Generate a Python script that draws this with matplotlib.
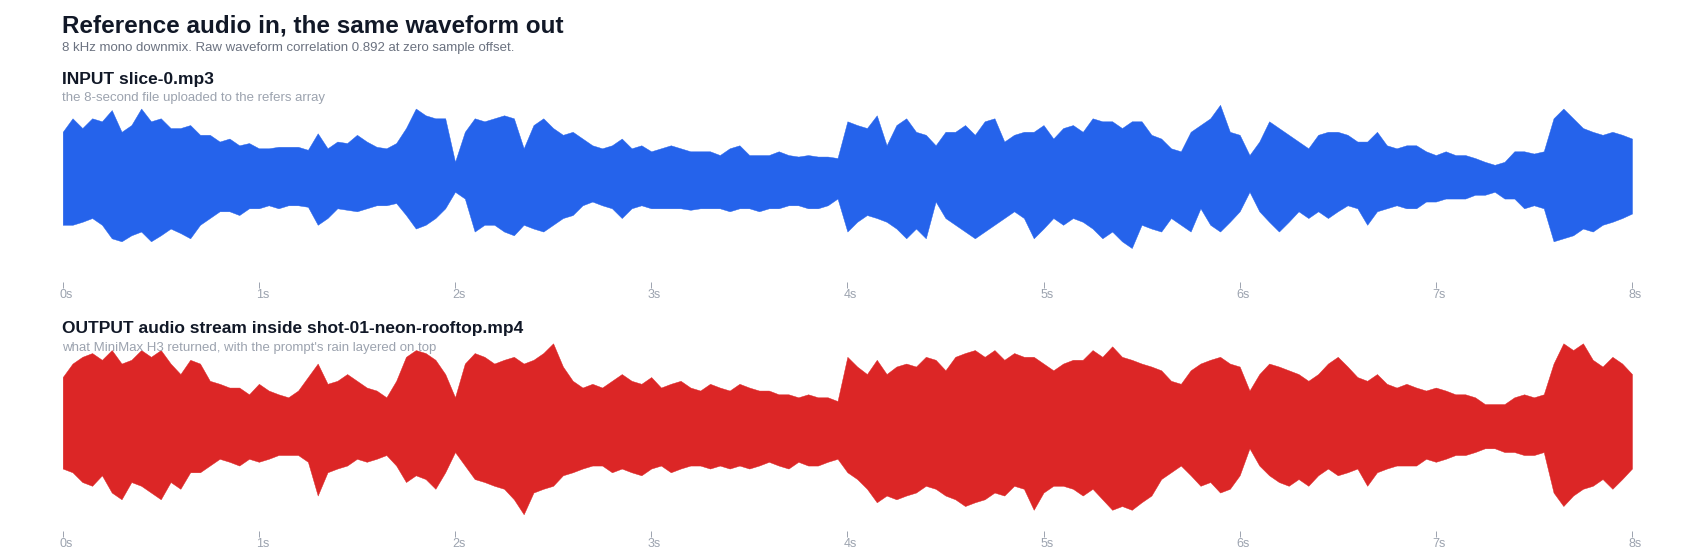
import matplotlib.pyplot as plt
from matplotlib import transforms
import numpy as np

plt.rcParams["font.family"] = ["Liberation Sans", "DejaVu Sans"]

# envelope readings, one every 50 ms from 0 s to 8 s (amplitude above / below zero)
STEP = 0.05

input_top = [
    0.62, 0.80, 0.67, 0.80, 0.76, 0.91, 0.62, 0.71, 0.93, 0.76, 0.80, 0.67, 0.67, 0.71, 0.58, 0.58, 0.49, 0.53, 0.44, 0.47,
    0.40, 0.40, 0.42, 0.42, 0.42, 0.38, 0.60, 0.40, 0.49, 0.47, 0.58, 0.49, 0.42, 0.40, 0.47, 0.67, 0.93, 0.84, 0.80, 0.80,
    0.22, 0.62, 0.80, 0.76, 0.80, 0.84, 0.80, 0.40, 0.71, 0.80, 0.67, 0.58, 0.62, 0.53, 0.44, 0.40, 0.44, 0.53, 0.40, 0.44,
    0.36, 0.40, 0.44, 0.40, 0.36, 0.36, 0.36, 0.31, 0.40, 0.44, 0.31, 0.31, 0.31, 0.36, 0.31, 0.29, 0.31, 0.29, 0.29, 0.27,
    0.76, 0.71, 0.67, 0.84, 0.44, 0.71, 0.80, 0.62, 0.58, 0.44, 0.62, 0.62, 0.71, 0.58, 0.76, 0.80, 0.49, 0.58, 0.62, 0.62,
    0.71, 0.53, 0.67, 0.71, 0.62, 0.80, 0.76, 0.76, 0.67, 0.76, 0.76, 0.58, 0.53, 0.40, 0.36, 0.62, 0.71, 0.80, 0.98, 0.62,
    0.58, 0.31, 0.49, 0.76, 0.67, 0.58, 0.49, 0.40, 0.58, 0.62, 0.62, 0.58, 0.49, 0.49, 0.62, 0.44, 0.40, 0.44, 0.44, 0.36,
    0.31, 0.36, 0.31, 0.31, 0.27, 0.22, 0.18, 0.22, 0.36, 0.36, 0.33, 0.36, 0.80, 0.93, 0.80, 0.67, 0.62, 0.58, 0.62, 0.58,
    0.53,
]
input_bottom = [
    0.62, 0.62, 0.58, 0.53, 0.62, 0.80, 0.84, 0.76, 0.71, 0.84, 0.76, 0.67, 0.73, 0.80, 0.62, 0.53, 0.44, 0.44, 0.49, 0.40,
    0.40, 0.36, 0.40, 0.36, 0.36, 0.38, 0.62, 0.53, 0.40, 0.42, 0.44, 0.40, 0.36, 0.36, 0.33, 0.49, 0.67, 0.62, 0.53, 0.40,
    0.18, 0.27, 0.71, 0.62, 0.62, 0.71, 0.76, 0.62, 0.67, 0.71, 0.62, 0.53, 0.49, 0.36, 0.31, 0.36, 0.40, 0.53, 0.40, 0.36,
    0.40, 0.40, 0.40, 0.40, 0.42, 0.40, 0.40, 0.40, 0.44, 0.40, 0.40, 0.44, 0.40, 0.40, 0.36, 0.36, 0.40, 0.40, 0.36, 0.27,
    0.71, 0.58, 0.49, 0.53, 0.58, 0.67, 0.80, 0.67, 0.80, 0.31, 0.53, 0.62, 0.71, 0.80, 0.71, 0.62, 0.53, 0.44, 0.53, 0.80,
    0.67, 0.53, 0.62, 0.53, 0.58, 0.67, 0.80, 0.71, 0.84, 0.93, 0.62, 0.67, 0.71, 0.53, 0.62, 0.71, 0.40, 0.62, 0.71, 0.58,
    0.44, 0.18, 0.44, 0.58, 0.71, 0.58, 0.44, 0.53, 0.44, 0.53, 0.44, 0.36, 0.40, 0.62, 0.44, 0.40, 0.36, 0.40, 0.40, 0.31,
    0.31, 0.27, 0.27, 0.27, 0.22, 0.22, 0.18, 0.27, 0.27, 0.40, 0.36, 0.40, 0.84, 0.80, 0.76, 0.67, 0.71, 0.62, 0.58, 0.53,
    0.47,
]
output_top = [
    0.67, 0.85, 0.94, 0.99, 0.90, 1.03, 0.85, 0.90, 1.03, 0.94, 1.03, 0.85, 0.71, 0.90, 0.85, 0.62, 0.58, 0.53, 0.53, 0.44,
    0.58, 0.49, 0.44, 0.40, 0.49, 0.67, 0.85, 0.58, 0.62, 0.71, 0.62, 0.53, 0.49, 0.40, 0.62, 0.94, 1.03, 0.99, 0.90, 0.71,
    0.40, 0.85, 0.99, 0.94, 0.85, 0.90, 0.94, 0.85, 0.90, 0.99, 1.12, 0.81, 0.62, 0.53, 0.58, 0.53, 0.62, 0.71, 0.62, 0.58,
    0.67, 0.53, 0.58, 0.62, 0.53, 0.49, 0.58, 0.53, 0.49, 0.58, 0.53, 0.49, 0.49, 0.44, 0.44, 0.40, 0.44, 0.40, 0.40, 0.35,
    0.94, 0.81, 0.71, 0.90, 0.71, 0.81, 0.85, 0.81, 0.94, 0.90, 0.76, 0.94, 0.99, 1.03, 0.94, 1.03, 0.90, 0.99, 0.94, 0.94,
    0.85, 0.76, 0.85, 0.90, 0.90, 1.03, 0.94, 1.08, 0.94, 0.90, 0.85, 0.81, 0.76, 0.62, 0.58, 0.76, 0.85, 0.90, 0.94, 0.85,
    0.81, 0.49, 0.71, 0.85, 0.81, 0.76, 0.71, 0.62, 0.71, 0.85, 0.94, 0.81, 0.67, 0.62, 0.71, 0.58, 0.53, 0.58, 0.53, 0.49,
    0.53, 0.49, 0.44, 0.44, 0.40, 0.31, 0.31, 0.31, 0.40, 0.44, 0.40, 0.44, 0.85, 1.12, 1.03, 1.12, 0.90, 0.81, 0.94, 0.85,
    0.71,
]
output_bottom = [
    0.55, 0.60, 0.73, 0.78, 0.64, 0.87, 0.96, 0.73, 0.78, 0.87, 0.96, 0.73, 0.82, 0.60, 0.60, 0.51, 0.42, 0.46, 0.51, 0.42,
    0.46, 0.42, 0.37, 0.37, 0.37, 0.46, 0.91, 0.60, 0.55, 0.51, 0.42, 0.46, 0.42, 0.37, 0.51, 0.73, 0.64, 0.69, 0.82, 0.60,
    0.33, 0.51, 0.69, 0.73, 0.78, 0.82, 0.96, 1.16, 0.87, 0.82, 0.78, 0.64, 0.60, 0.55, 0.51, 0.51, 0.60, 0.55, 0.60, 0.64,
    0.55, 0.51, 0.60, 0.55, 0.51, 0.51, 0.55, 0.51, 0.55, 0.51, 0.55, 0.51, 0.46, 0.51, 0.55, 0.46, 0.51, 0.51, 0.46, 0.42,
    0.60, 0.69, 0.82, 1.00, 0.91, 0.96, 0.91, 0.87, 0.78, 0.82, 0.91, 0.96, 1.05, 1.00, 0.96, 0.87, 0.91, 0.78, 0.82, 1.10,
    0.87, 0.78, 0.78, 0.82, 0.91, 0.82, 0.96, 1.10, 1.05, 1.10, 1.00, 0.91, 0.69, 0.60, 0.51, 0.64, 0.78, 0.73, 0.87, 0.82,
    0.64, 0.28, 0.51, 0.64, 0.73, 0.78, 0.69, 0.78, 0.64, 0.55, 0.64, 0.60, 0.55, 0.78, 0.60, 0.55, 0.51, 0.51, 0.51, 0.42,
    0.46, 0.42, 0.37, 0.37, 0.33, 0.28, 0.28, 0.33, 0.33, 0.37, 0.37, 0.33, 0.87, 1.05, 0.91, 0.82, 0.78, 0.69, 0.82, 0.69,
    0.55,
]

tick_seconds = [0, 1, 2, 3, 4, 5, 6, 7, 8]
tick_labels = ["0s", "1s", "2s", "3s", "4s", "5s", "6s", "7s", "8s"]

panel_titles = ["INPUT slice-0.mp3", "OUTPUT audio stream inside shot-01-neon-rooftop.mp4"]
panel_notes = [
    "the 8-second file uploaded to the refers array",
    "what MiniMax H3 returned, with the prompt's rain layered on top",
]

BLUE = "#2563eb"
RED = "#dc2626"
DARK = "#111827"
GREY = "#6b7280"
LIGHT = "#9ca3af"

W, H = 1700, 555
fig = plt.figure(figsize=(W / 100, H / 100), dpi=100)
fig.patch.set_facecolor("white")

fig.text(62 / W, 1 - 33 / H, "Reference audio in, the same waveform out",
         fontsize=17.5, fontweight="bold", color=DARK, va="baseline")
fig.text(62 / W, 1 - 51 / H,
         "8 kHz mono downmix. Raw waveform correlation 0.892 at zero sample offset.",
         fontsize=9.5, color=GREY, va="baseline")

times = np.arange(len(input_top)) * STEP
series = [(input_top, input_bottom, BLUE), (output_top, output_bottom, RED)]

PANEL_SHIFT = 249  # px between the two panels
left, width = 62.7 / W, (1632 - 62.7) / W
for i, (top, bottom, color) in enumerate(series):
    centre = 178.3 + i * PANEL_SHIFT
    y_bot = centre + 1.383 * 75
    ax = fig.add_axes([left, 1 - y_bot / H, width, (2.633 * 75) / H])
    ax.set_xlim(0, 8)
    ax.set_ylim(-1.383, 1.25)
    ax.fill_between(times, -np.array(bottom), np.array(top), color=color, lw=0.3,
                    edgecolor=color)
    ax.set_xticks(tick_seconds)
    ax.set_xticklabels(tick_labels)
    ax.tick_params(axis="x", length=4, width=0.7, color=LIGHT, pad=1,
                   labelsize=9, labelcolor=LIGHT)
    ax.set_yticks([])
    for s in ax.spines.values():
        s.set_visible(False)
    ax.patch.set_alpha(0)
    shift = transforms.ScaledTranslation(3.5 / 100, 0, fig.dpi_scale_trans)
    for lab in ax.get_xticklabels():
        lab.set_transform(lab.get_transform() + shift)

    fig.text(62 / W, 1 - (84.3 + i * PANEL_SHIFT) / H, panel_titles[i],
             fontsize=12.5, fontweight="bold", color=DARK, va="baseline")
    fig.text(62 / W, 1 - (101.5 + i * PANEL_SHIFT) / H, panel_notes[i],
             fontsize=9.5, color=LIGHT, va="baseline")

fig.savefig("out.png", dpi=100, facecolor="white")
